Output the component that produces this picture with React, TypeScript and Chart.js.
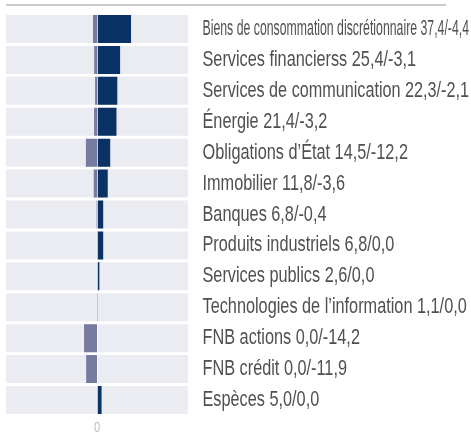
import React, { useEffect, useRef } from "react";
import { Chart, registerables } from "chart.js";

Chart.register(...registerables);

const categories = [
  "Biens de consommation discrétionnaire",
  "Services financierss",
  "Services de communication",
  "Énergie",
  "Obligations d’État",
  "Immobilier",
  "Banques",
  "Produits industriels",
  "Services publics",
  "Technologies de l’information",
  "FNB actions",
  "FNB crédit",
  "Espèces",
];
const positiveValues = [37.4, 25.4, 22.3, 21.4, 14.5, 11.8, 6.8, 6.8, 2.6, 1.1, 0.0, 0.0, 5.0];
const negativeValues = [-4.4, -3.1, -2.1, -3.2, -12.2, -3.6, -0.4, 0.0, 0.0, 0.0, -14.2, -11.9, 0.0];
const axisMin = -100;
const axisMax = 100;
const xTickValues = [0];

const fmt = (v: number) => (Math.abs(v) < 1e-9 ? 0 : v).toFixed(1).replace(".", ",");
const rowLabels = categories.map(
  (c, i) => `${c} ${fmt(positiveValues[i])}/${fmt(negativeValues[i])}`
);

function pickFont(ctx: CanvasRenderingContext2D, size: number) {
  const probe = "Services financierss 25,4/-3,1";
  ctx.font = `${size}px monospace`;
  const a = ctx.measureText(probe).width;
  ctx.font = `${size}px "Liberation Sans Narrow", monospace`;
  const b = ctx.measureText(probe).width;
  if (Math.abs(a - b) > 0.5) {
    return { font: `${size}px "Liberation Sans Narrow", "Liberation Sans", sans-serif`, sx: 0.9 };
  }
  return { font: `${size}px "Liberation Sans", Arial, sans-serif`, sx: 0.74 };
}

const decorPlugin = {
  id: "decor",
  afterDatasetsDraw(chart: any) {
    const { ctx, chartArea, scales } = chart;
    const x = scales.x;
    const y = scales.y;
    const zero = x.getPixelForValue(0);
    ctx.save();
    // zero separator
    ctx.strokeStyle = "rgba(255,255,255,0.75)";
    ctx.lineWidth = 1;
    ctx.beginPath();
    ctx.moveTo(Math.floor(zero) + 0.5, chartArea.top);
    ctx.lineTo(Math.floor(zero) + 0.5, chartArea.bottom);
    ctx.stroke();
    // top rule
    ctx.fillStyle = "#cccccc";
    ctx.fillRect(chartArea.left, 4, 446 - chartArea.left, 2);
    // row labels
    const { font, sx } = pickFont(ctx, 22);
    ctx.font = font;
    ctx.fillStyle = "#505052";
    ctx.textBaseline = "alphabetic";
    ctx.textAlign = "left";
    const labelX = chartArea.right + 14.5;
    const maxW = chart.width - labelX - 2;
    rowLabels.forEach((lab, i) => {
      const cy = y.getPixelForValue(i);
      ctx.save();
      ctx.translate(labelX, cy + 6);
      ctx.scale(sx, 1);
      ctx.fillText(lab, 0, 0, maxW / sx);
      ctx.restore();
    });
    // x tick labels
    const t = pickFont(ctx, 15);
    ctx.font = t.font;
    ctx.fillStyle = "#bdbdbd";
    ctx.textAlign = "center";
    ctx.textBaseline = "middle";
    xTickValues.forEach((v) => {
      const px = x.getPixelForValue(v);
      ctx.save();
      ctx.translate(px, chartArea.bottom + 12);
      ctx.scale(t.sx, 1);
      ctx.fillText(String(v), 0, 0);
      ctx.restore();
    });
    ctx.restore();
  },
};

export default function App() {
  const ref = useRef<HTMLCanvasElement>(null);
  useEffect(() => {
    if (!ref.current) return;
    const chart = new Chart(ref.current, {
      type: "bar",
      data: {
        labels: categories,
        datasets: [
          {
            label: "positive",
            data: positiveValues,
            backgroundColor: "#0a3264",
            grouped: false,
            order: 1,
            borderWidth: 0,
          } as any,
          {
            label: "negative",
            data: negativeValues,
            backgroundColor: "#767ba0",
            grouped: false,
            order: 2,
            borderWidth: 0,
          } as any,
          {
            label: "band",
            data: categories.map(() => [axisMin, axisMax]),
            backgroundColor: "#ebecf1",
            grouped: false,
            order: 3,
            borderWidth: 0,
          } as any,
        ],
      },
      options: {
        indexAxis: "y",
        responsive: false,
        animation: false,
        devicePixelRatio: 1,
        layout: { padding: { left: 6, right: 283, top: 13.5, bottom: 17.5 } },
        datasets: { bar: { barPercentage: 0.905, categoryPercentage: 1 } } as any,
        scales: {
          x: { display: false, min: axisMin, max: axisMax },
          y: { display: false },
        },
        plugins: {
          legend: { display: false },
          tooltip: { enabled: false },
        },
      },
      plugins: [decorPlugin],
    });
    return () => chart.destroy();
  }, []);
  return (
    <div style={{ position: "fixed", left: 0, top: 0, width: 471, height: 433, background: "#fff" }}>
      <canvas ref={ref} width={471} height={433} style={{ width: 471, height: 433, display: "block" }} />
    </div>
  );
}
